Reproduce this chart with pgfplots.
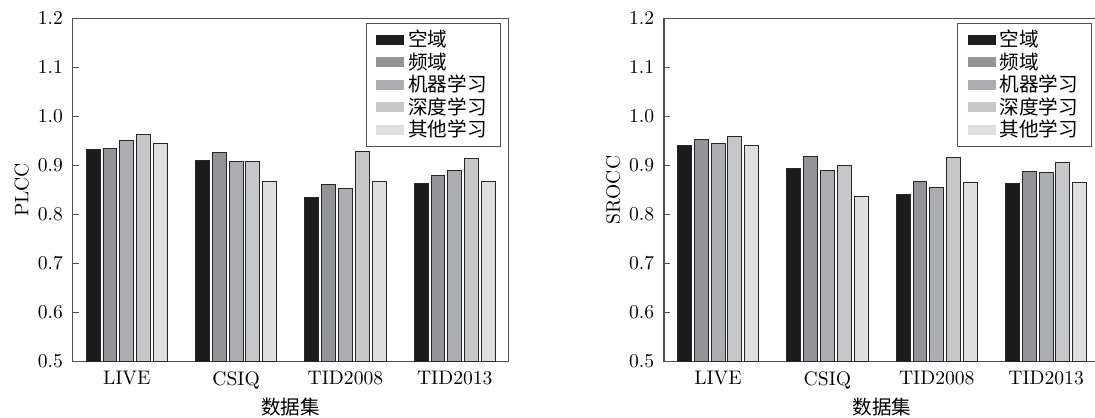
\documentclass[border=0pt]{standalone}
\usepackage{fontspec}
\usepackage{pgfplots}
\pgfplotsset{compat=1.18}
\newfontfamily\cjk{Noto Sans CJK SC}
\definecolor{cA}{HTML}{1B1C1B}
\definecolor{cB}{HTML}{939498}
\definecolor{cC}{HTML}{ACADB0}
\definecolor{cD}{HTML}{C6C7C9}
\definecolor{cE}{HTML}{DFDFDF}
\definecolor{axc}{HTML}{505050}
\pgfplotsset{
  myaxis/.style={
    scale only axis, width=222.2pt, height=175.1pt,
    ybar, bar width=7.1pt,
    xmin=-0.494, xmax=3.49, ymin=0.5, ymax=1.2,
    xtick={0,1,2,3}, xticklabels={LIVE,CSIQ,TID2008,TID2013},
    xtick style={draw=none},
    ytick={0.5,0.6,...,1.21},
    ytick pos=left, tick align=inside, major tick length=3pt,
    ytick style={color=axc, line width=0.5pt},
    axis line style={color=axc, line width=0.6pt},
    yticklabel style={xshift=-1.5pt, /pgf/number format/fixed, /pgf/number format/fixed zerofill, /pgf/number format/precision=1},
    xticklabel style={yshift=-1.5pt},
    every axis y label/.style={at={(axis description cs:-0.117,0.5)}, rotate=90, anchor=center},
    every axis x label/.style={at={(axis description cs:0.5,-0.132)}, anchor=center},
    xlabel={\cjk 数据集},
    legend cell align=left,
    legend style={at={(0.983,0.987)}, anchor=north east, draw=axc, line width=0.5pt,
      font=\cjk, row sep=-2.5pt, inner xsep=5pt, inner ysep=1.5pt},
    legend image code/.code={\fill[##1,draw=none] (0pt,-2.5pt) rectangle (14.3pt,2.5pt);},
    every axis plot/.append style={draw=black!85, line width=0.5pt},
  }
}
\begin{document}
\begin{tikzpicture}
\begin{axis}[myaxis, at={(0pt,0pt)}, anchor=south west, ylabel={PLCC}]
\addplot[fill=cA, bar shift=-17.14pt] coordinates {(0,0.933) (1,0.909) (2,0.835) (3,0.864)};
\addplot[fill=cB, bar shift=-8.57pt] coordinates {(0,0.934) (1,0.926) (2,0.860) (3,0.879)};
\addplot[fill=cC, bar shift=0pt] coordinates {(0,0.951) (1,0.907) (2,0.853) (3,0.890)};
\addplot[fill=cD, bar shift=8.57pt] coordinates {(0,0.962) (1,0.908) (2,0.929) (3,0.914)};
\addplot[fill=cE, bar shift=17.14pt] coordinates {(0,0.945) (1,0.867) (2,0.867) (3,0.867)};
\legend{空域,频域,机器学习,深度学习,其他学习}
\end{axis}
\begin{axis}[myaxis, at={(301.6pt,0pt)}, anchor=south west, ylabel={SROCC}]
\addplot[fill=cA, bar shift=-17.14pt] coordinates {(0,0.941) (1,0.893) (2,0.841) (3,0.863)};
\addplot[fill=cB, bar shift=-8.57pt] coordinates {(0,0.952) (1,0.919) (2,0.867) (3,0.888)};
\addplot[fill=cC, bar shift=0pt] coordinates {(0,0.944) (1,0.889) (2,0.854) (3,0.885)};
\addplot[fill=cD, bar shift=8.57pt] coordinates {(0,0.958) (1,0.899) (2,0.916) (3,0.906)};
\addplot[fill=cE, bar shift=17.14pt] coordinates {(0,0.941) (1,0.837) (2,0.866) (3,0.865)};
\legend{空域,频域,机器学习,深度学习,其他学习}
\end{axis}
\pgfresetboundingbox
\path[use as bounding box] (-37.1pt,-28.7pt) rectangle (521.4pt,184.4pt);
\end{tikzpicture}
\end{document}
